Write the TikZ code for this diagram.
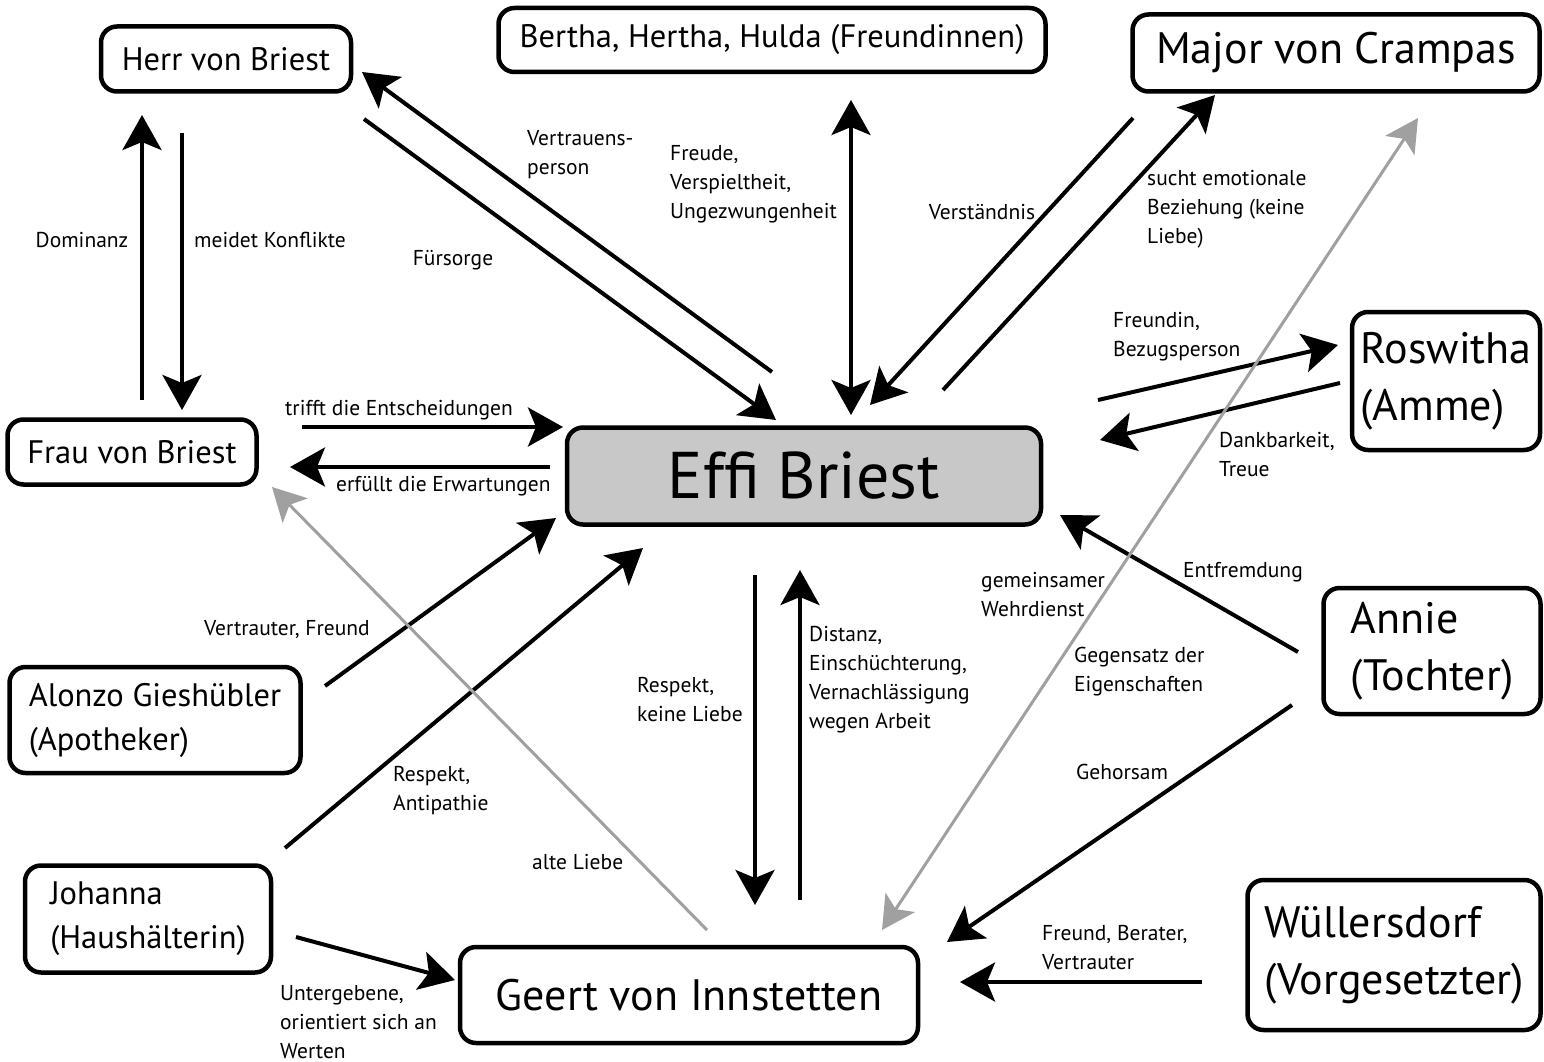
\documentclass[tikz,border=0pt]{standalone}
\usepackage{fontspec}
\setmainfont{PT Sans}
\usetikzlibrary{arrows.meta,calc}
\definecolor{effigrau}{HTML}{C8C8C8}
\definecolor{liniengrau}{HTML}{A0A0A0}
\tikzset{
  spitze/.tip={Stealth[length=35pt,width=39pt,inset=8pt]},
  grauspitze/.tip={Stealth[length=33pt,width=35pt,inset=8pt]}
}
\begin{document}
\begin{tikzpicture}[x=1pt,y=-1pt,
    person/.style={draw,line width=4.5pt,rounded corners=16pt,inner sep=0pt,align=left,fill=white},
    klein/.style={font=\fontsize{32.5}{44}\selectfont},
    gross/.style={font=\fontsize{44}{57}\selectfont},
    rel/.style={line width=4pt,-spitze},
    relgrau/.style={line width=3pt,color=liniengrau,-grauspitze},
    txt/.style={font=\fontsize{21.5}{29}\selectfont,align=left,inner sep=0pt}]
  \useasboundingbox (0,0) rectangle (1544,1062);

  % Personen
  \node[person,klein,minimum width=250pt,minimum height=65pt] (herr) at (226,59) {Herr von Briest};
  \node[person,klein,minimum width=547pt,minimum height=64pt] (freundinnen) at (772,40) {Bertha, Hertha, Hulda (Freundinnen)};
  \node[person,gross,minimum width=407pt,minimum height=77pt] (crampas) at (1336,53) {Major von Crampas};
  \node[person,gross,minimum width=188pt,minimum height=138pt] (roswitha) at (1446,381) {Roswitha\\(Amme)};
  \node[person,klein,minimum width=249pt,minimum height=65pt] (frau) at (132,452) {Frau von Briest};
  \node[person,fill=effigrau,font=\fontsize{66}{80}\selectfont,minimum width=474pt,minimum height=97pt] (effi) at (804,476) {Effi Briest};
  \node[person,klein,minimum width=291pt,minimum height=106pt] (alonzo) at (155,720) {Alonzo Gieshübler\\(Apotheker)};
  \node[person,klein,minimum width=246pt,minimum height=107pt] (johanna) at (148,919) {Johanna\\(Haushälterin)};
  \node[person,gross,minimum width=458pt,minimum height=96pt] (geert) at (689,995) {Geert von Innstetten};
  \node[person,gross,minimum width=217pt,minimum height=126pt] (annie) at (1432,651) {Annie\\(Tochter)};
  \node[person,gross,minimum width=293pt,minimum height=150pt] (wuellersdorf) at (1394,955) {Wüllersdorf\\(Vorgesetzter)};

  % Beziehungen
  \draw[rel] ($(frau)+(10,-52)$) -- ($(herr)+(-84,56)$);
  \draw[rel] ($(herr)+(-44,74)$) -- ($(frau)+(50,-42)$);
  \draw[rel] ($(effi)+(-32,-104)$) -- ($(herr)+(136,13)$);
  \draw[rel] ($(herr)+(138,60)$) -- ($(effi)+(-28,-56)$);
  \draw[rel,spitze-spitze] ($(freundinnen)+(79,60)$) -- ($(effi)+(47,-61)$);
  \draw[rel] ($(crampas)+(-203,65)$) -- ($(effi)+(66,-71)$);
  \draw[rel] ($(effi)+(139,-86)$) -- ($(crampas)+(-121,42)$);
  \draw[rel] ($(effi)+(294,-76)$) -- ($(roswitha)+(-108,-36)$);
  \draw[rel] ($(roswitha)+(-106,2)$) -- ($(effi)+(296,-36)$);
  \draw[rel] ($(frau)+(170,-25)$) -- ($(effi)+(-241,-49)$);
  \draw[rel] ($(effi)+(-254,-9)$) -- ($(frau)+(158,15)$);
  \draw[rel] ($(alonzo)+(170,-34)$) -- ($(effi)+(-248,42)$);
  \draw[rel] ($(johanna)+(137,-71)$) -- ($(effi)+(-161,72)$);
  \draw[rel] ($(johanna)+(148,18)$) -- ($(geert)+(-234,-15)$);
  \draw[rel] ($(effi)+(-49,99)$) -- ($(geert)+(66,-90)$);
  \draw[rel] ($(geert)+(111,-95)$) -- ($(effi)+(-4,94)$);
  \draw[rel] ($(annie)+(-134,1)$) -- ($(effi)+(256,39)$);
  \draw[rel] ($(annie)+(-140,54)$) -- ($(geert)+(258,-53)$);
  \draw[rel] ($(wuellersdorf)+(-192,27)$) -- ($(geert)+(271,-13)$);
  \draw[relgrau] ($(geert)+(18,-65)$) -- ($(frau)+(140,35)$);
  \draw[relgrau,grauspitze-grauspitze] ($(geert)+(193,-65)$) -- ($(crampas)+(82,65)$);

  % Beschriftungen
  \node[txt] (lDominanz) at (82,240) {Dominanz};
  \node[txt,anchor=west] (lMeidet) at (194,240) {meidet Konflikte};
  \node[txt,anchor=west] (lVertrauen) at (527,155) {Vertrauens-\\person};
  \node[txt] (lFuersorge) at (453,260) {Fürsorge};
  \node[txt,anchor=west] (lFreude) at (670,184) {Freude,\\Verspieltheit,\\Ungezwungenheit};
  \node[txt] (lVerstaendnis) at (982,212) {Verständnis};
  \node[txt,anchor=west] (lSucht) at (1147,209) {sucht emotionale\\Beziehung (keine\\Liebe)};
  \node[txt,anchor=west] (lFreundin) at (1113,337) {Freundin,\\Bezugsperson};
  \node[txt,anchor=west] (lDank) at (1219,455) {Dankbarkeit,\\Treue};
  \node[txt,anchor=west] (lTrifft) at (285,410) {trifft die Entscheidungen};
  \node[txt,anchor=west] (lErfuellt) at (336,486) {erfüllt die Erwartungen};
  \node[txt,anchor=west] (lVertrauter) at (204,630) {Vertrauter, Freund};
  \node[txt,anchor=west] (lAntipathie) at (393,791) {Respekt,\\Antipathie};
  \node[txt,anchor=west] (lAlteLiebe) at (532,862) {alte Liebe};
  \node[txt,anchor=west] (lUntergeben) at (280,1022) {Untergebene,\\orientiert sich an\\Werten};
  \node[txt,anchor=west] (lRespekt) at (637,700) {Respekt,\\keine Liebe};
  \node[txt,anchor=west] (lDistanz) at (809,680) {Distanz,\\Einschüchterung,\\Vernachlässigung\\wegen Arbeit};
  \node[txt,anchor=west] (lWehrdienst) at (981,595) {gemeinsamer\\Wehrdienst};
  \node[txt,anchor=west] (lGegensatz) at (1074,672) {Gegensatz der\\Eigenschaften};
  \node[txt,anchor=west] (lEntfremdung) at (1183,572) {Entfremdung};
  \node[txt,anchor=west] (lGehorsam) at (1076,772) {Gehorsam};
  \node[txt,anchor=west] (lBerater) at (1042,948) {Freund, Berater,\\Vertrauter};
\end{tikzpicture}
\end{document}
